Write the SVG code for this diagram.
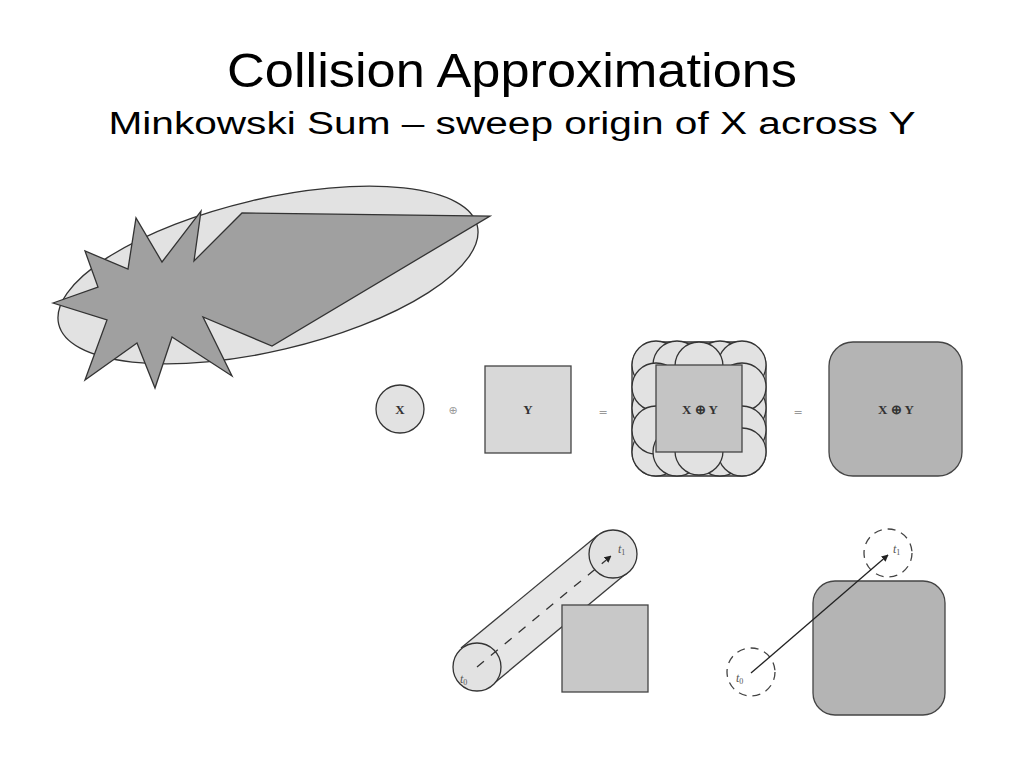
<svg xmlns="http://www.w3.org/2000/svg" width="1024" height="768" viewBox="0 0 1024 768">
<defs>
<style>
.title{font-family:"Liberation Sans",Arial,sans-serif;fill:#000}
.lbl{font-family:"Liberation Serif","Times New Roman",serif;fill:#333;font-size:13px}
.ital{font-family:"Liberation Serif","Times New Roman",serif;font-style:italic;fill:#555;font-size:12px}
.op{font-family:"DejaVu Sans",sans-serif;fill:#999;font-size:11px}
.sk{stroke:#3a3a3a;stroke-width:1.3}
.c{fill:#e2e2e2;stroke:#333;stroke-width:1.3}
.dc{fill:none;stroke:#444;stroke-width:1.3;stroke-dasharray:8 6}
</style>
<marker id="ah" viewBox="0 0 10 10" refX="9" refY="5" markerWidth="7" markerHeight="7" orient="auto" markerUnits="userSpaceOnUse">
<path d="M0,0 L10,5 L0,10 z" fill="#222"/>
</marker>
</defs>
<rect width="1024" height="768" fill="#fff"/>
<g id="title">
<text class="title" x="512" y="87" font-size="48" text-anchor="middle" textLength="570" lengthAdjust="spacingAndGlyphs">Collision Approximations</text>
<text class="title" x="512" y="134" font-size="31" text-anchor="middle" textLength="807" lengthAdjust="spacingAndGlyphs">Minkowski Sum – sweep origin of X across Y</text>
</g>
<g id="bounding-ellipse">
<ellipse cx="268" cy="275" rx="215" ry="76" transform="rotate(-13.2 268 275)" fill="#e2e2e2" stroke="#333" stroke-width="1.3"/>
</g>
<g id="star-shape">
<polygon points="53,303 98,287 85,251 128,269 136,218 162,262 201,211 194,261 242,213 490,216 272,346 203,317 232,376 172,337 155,388 137,343 85,380 107,320" fill="#a0a0a0" stroke="#333" stroke-width="1.3" stroke-linejoin="miter"/>
</g>
<g id="node-x">
<circle cx="400" cy="409" r="24" class="c"/>
<text class="lbl" x="400" y="414" text-anchor="middle" font-weight="bold">X</text>
</g>
<text class="op" x="453" y="414" text-anchor="middle">⊕</text>
<g id="node-y">
<rect x="485" y="366" width="86" height="87" fill="#d8d8d8" stroke="#444" stroke-width="1.3"/>
<text class="lbl" x="528" y="414" text-anchor="middle" font-weight="bold">Y</text>
</g>
<text class="op" x="603" y="416" text-anchor="middle">=</text>
<g id="node-sum-circles">
<rect x="632" y="342" width="134" height="134" rx="24" fill="#e2e2e2" stroke="#333" stroke-width="1.3"/>
<circle cx="656" cy="365" r="24" class="c"/>
<circle cx="720" cy="365" r="24" class="c"/>
<circle cx="677" cy="365" r="24" class="c"/>
<circle cx="742" cy="365" r="24" class="c"/>
<circle cx="699" cy="366" r="24" class="c"/>
<circle cx="742" cy="408" r="24" class="c"/>
<circle cx="742" cy="387" r="24" class="c"/>
<circle cx="742" cy="430" r="24" class="c"/>
<circle cx="656" cy="408" r="24" class="c"/>
<circle cx="656" cy="387" r="24" class="c"/>
<circle cx="656" cy="452" r="24" class="c"/>
<circle cx="656" cy="430" r="24" class="c"/>
<circle cx="720" cy="452" r="24" class="c"/>
<circle cx="677" cy="452" r="24" class="c"/>
<circle cx="742" cy="452" r="24" class="c"/>
<circle cx="699" cy="451" r="24" class="c"/>
<rect x="656" y="365" width="86" height="87" fill="#c4c4c4" stroke="#444" stroke-width="1.3"/>
<text class="lbl" x="700" y="414" text-anchor="middle" font-weight="bold">X ⊕ Y</text>
</g>
<text class="op" x="798" y="416" text-anchor="middle">=</text>
<g id="node-sum">
<rect x="829" y="342" width="133" height="134" rx="24" fill="#b4b4b4" stroke="#444" stroke-width="1.3"/>
<text class="lbl" x="896" y="414" text-anchor="middle" font-weight="bold">X ⊕ Y</text>
</g>
<g id="swept-cylinder">
<polygon points="492,685 628,572 598,535 461,648" fill="#e6e6e6"/>
<line x1="492" y1="685" x2="628" y2="572" class="sk"/>
<line x1="461" y1="648" x2="598" y2="535" class="sk"/>
<circle cx="477" cy="667" r="24" class="c"/>
<circle cx="613" cy="554" r="24" class="c"/>
</g>
<g id="obstacle-box">
<rect x="562" y="605" width="86" height="87" fill="#c8c8c8" stroke="#444" stroke-width="1.3"/>
</g>
<g id="node-t0-dashed">
<circle cx="751" cy="672" r="24" class="dc"/>
</g>
<g id="node-t1-dashed">
<circle cx="888" cy="553" r="24" class="dc"/>
</g>
<g id="obstacle-rounded">
<rect x="813" y="581" width="132" height="134" rx="22" fill="#b4b4b4" stroke="#444" stroke-width="1.3"/>
</g>
<g id="connectors">
<line x1="477" y1="667" x2="611" y2="556" stroke="#333" stroke-width="1.3" stroke-dasharray="9 9" marker-end="url(#ah)"/>
<line x1="751" y1="673" x2="888" y2="555" stroke="#222" stroke-width="1.3" marker-end="url(#ah)"/>
</g>
<g id="labels">
<text class="ital" x="460" y="683">t<tspan font-size="8" dy="2" font-style="normal">0</tspan></text>
<text class="ital" x="618" y="553">t<tspan font-size="8" dy="2" font-style="normal">1</tspan></text>
<text class="ital" x="736" y="682">t<tspan font-size="8" dy="2" font-style="normal">0</tspan></text>
<text class="ital" x="893" y="553">t<tspan font-size="8" dy="2" font-style="normal">1</tspan></text>
</g>
</svg>
